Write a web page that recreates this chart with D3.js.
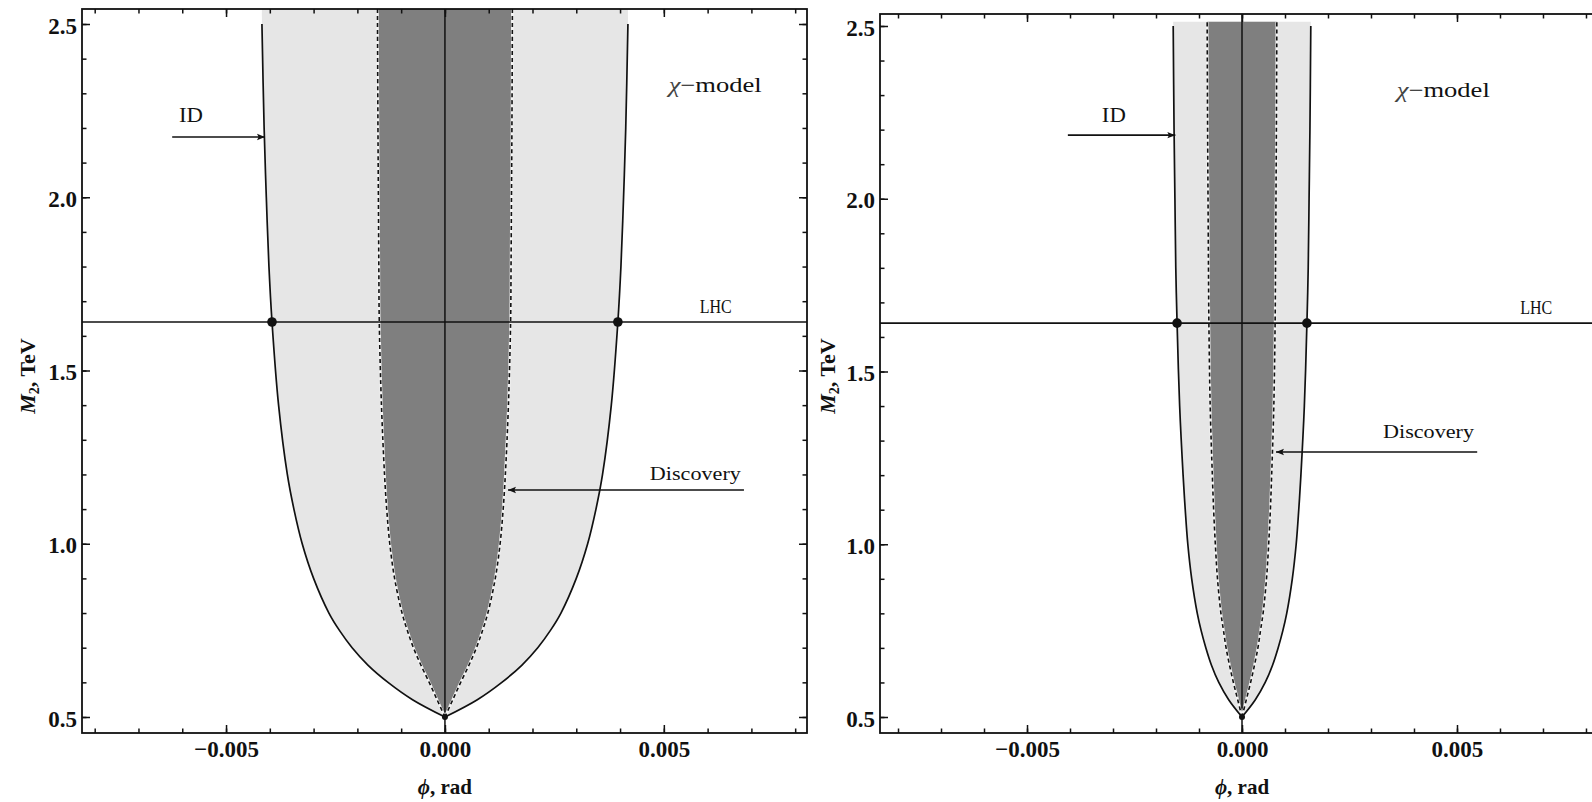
<!DOCTYPE html>
<html>
<head>
<meta charset="utf-8">
<script src="https://cdn.jsdelivr.net/npm/d3@7"></script>
<style>
  html, body { margin: 0; padding: 0; background: #fff; overflow: hidden; }
  svg { display: block; }
  text { font-family: "Liberation Serif", "Times New Roman", serif; fill: #111; }
</style>
</head>
<body>
<script>
// ---------------- data ----------------
const massValues   = [0.5, 0.55, 0.6, 0.65, 0.7, 0.75, 0.8, 0.9, 1.0, 1.1, 1.2, 1.4, 1.64, 1.8, 2.0, 2.2, 2.5];
// left panel: ID (outer) and Discovery (inner) half-widths in phi (rad)
const leftIdPhi    = [0, 0.00074, 0.0013, 0.00176, 0.00212, 0.00241, 0.00265, 0.003, 0.00326, 0.00345, 0.0036, 0.0038, 0.00395, 0.00402, 0.00408, 0.00413, 0.00418];
const leftDiscPhi  = [0, 0.00018, 0.00036, 0.00055, 0.00072, 0.00086, 0.00098, 0.00115, 0.00126, 0.00133, 0.00138, 0.00145, 0.0015, 0.00151, 0.00152, 0.00153, 0.00154];
// right panel
const rightIdPhi   = [0, 0.00031, 0.00054, 0.00071, 0.00084, 0.00095, 0.00104, 0.00117, 0.00126, 0.00132, 0.00137, 0.00145, 0.00151, 0.00154, 0.00156, 0.00158, 0.0016];
const rightDiscPhi = [0, 0.0001, 0.0002, 0.00029, 0.00037, 0.00043, 0.00049, 0.00057, 0.00062, 0.00066, 0.00069, 0.00074, 0.00077, 0.00078, 0.00079, 0.0008, 0.00081];
const lhcMass = 1.64;
const xTickValues = [-0.005, 0, 0.005];
const xTickLabels = ["\u22120.005", "0.000", "0.005"];
const yTickValues = [0.5, 1.0, 1.5, 2.0, 2.5];
const yTickLabels = ["0.5", "1.0", "1.5", "2.0", "2.5"];
const modelLabel = "\u03C7\u2212model";
const lhcLabel = "LHC";
const idLabel = "ID";
const discLabel = "Discovery";

// ---------------- layout ----------------
const W = 1592, H = 802;
const svg = d3.select("body").append("svg").attr("width", W).attr("height", H);

const defs = svg.append("defs");
defs.append("marker").attr("id", "arr").attr("viewBox", "0 0 10 10")
  .attr("refX", 10).attr("refY", 5).attr("markerWidth", 14).attr("markerHeight", 8)
  .attr("markerUnits", "userSpaceOnUse").attr("orient", "auto")
  .append("path").attr("d", "M0,1 L10,5 L0,9 L2,5 Z").attr("fill", "#111");

const panels = [
  { id: "L", idPhi: leftIdPhi, discPhi: leftDiscPhi,
    xDom: [-0.00829, 0.00827], xRange: [82, 807],
    yDom: [0.4538, 2.5433], yRange: [733, 9], fillTop: 2.5433,
    ann: { idText: [-0.0058, 2.217], idArrow: [-0.00623, -0.00411, 2.174],
           model: [0.00511, 2.304], lhc: [0.00582, 1.666],
           disc: [0.00468, 1.184], discArrow: [0.00683, 0.00144, 1.155] },
    ylab: 35 },
  { id: "R", idPhi: rightIdPhi, discPhi: rightDiscPhi,
    xDom: [-0.008419, 0.008419], xRange: [880, 1604],
    yDom: [0.4537, 2.5347], yRange: [733, 14], fillTop: 2.512,
    ann: { idText: [-0.00298, 2.222], idArrow: [-0.00405, -0.00155, 2.184],
           model: [0.0036, 2.294], lhc: [0.00647, 1.666],
           disc: [0.00328, 1.3075], discArrow: [0.00547, 0.00079, 1.267] },
    ylab: 835 }
];

const curve = d3.curveCatmullRom.alpha(0.5);

panels.forEach(p => {
  const x = d3.scaleLinear().domain(p.xDom).range(p.xRange);
  const y = d3.scaleLinear().domain(p.yDom).range(p.yRange);
  const g = svg.append("g");
  const clipId = "clip" + p.id;
  defs.append("clipPath").attr("id", clipId).append("rect")
    .attr("x", p.xRange[0]).attr("y", p.yRange[1])
    .attr("width", p.xRange[1] - p.xRange[0]).attr("height", p.yRange[0] - p.yRange[1]);
  const plot = g.append("g").attr("clip-path", `url(#${clipId})`);

  const idPts = massValues.map((m, i) => ({ m, w: p.idPhi[i] }));
  const discPts = massValues.map((m, i) => ({ m, w: p.discPhi[i] }));
  const withTop = pts => pts.concat([{ m: p.fillTop, w: pts[pts.length - 1].w }]);

  const bandPath = pts => {
    const ln = d3.line().curve(curve).x(d => x(d.w)).y(d => y(d.m));
    const left = ln(pts.map(d => ({ m: d.m, w: -d.w })));
    const right = ln(pts.slice().reverse());
    return left + "L" + right.slice(1) + "Z";
  };
  plot.append("path").attr("d", bandPath(withTop(idPts))).attr("fill", "#e6e6e6");
  plot.append("path").attr("d", bandPath(withTop(discPts))).attr("fill", "#7f7f7f");

  // zero line
  plot.append("line").attr("x1", x(0)).attr("x2", x(0))
    .attr("y1", p.yRange[0]).attr("y2", p.yRange[1])
    .attr("stroke", "#111").attr("stroke-width", 1.5);

  // discovery dashed borders
  [-1, 1].forEach(s => {
    const ln = d3.line().curve(curve).y(d => y(d.m)).x(d => x(s * d.w));
    plot.append("path").datum(withTop(discPts)).attr("d", ln)
      .attr("fill", "none").attr("stroke", "#f4f4f4").attr("stroke-width", 2.6);
    plot.append("path").datum(withTop(discPts)).attr("d", ln)
      .attr("fill", "none").attr("stroke", "#111").attr("stroke-width", 1.6)
      .attr("stroke-dasharray", "4,3");
  });
  // ID borders
  [-1, 1].forEach(s => {
    const ln = d3.line().curve(curve).y(d => y(d.m)).x(d => x(s * d.w));
    plot.append("path").datum(idPts).attr("d", ln)
      .attr("fill", "none").attr("stroke", "#111").attr("stroke-width", 1.7);
  });

  // LHC line
  plot.append("line").attr("x1", p.xRange[0]).attr("x2", p.xRange[1])
    .attr("y1", y(lhcMass)).attr("y2", y(lhcMass))
    .attr("stroke", "#111").attr("stroke-width", 1.7);

  // dots
  const li = massValues.indexOf(lhcMass);
  [-1, 1].forEach(s => {
    plot.append("circle").attr("cx", x(s * p.idPhi[li])).attr("cy", y(lhcMass))
      .attr("r", 4.8).attr("fill", "#111");
  });
  plot.append("circle").attr("cx", x(0)).attr("cy", y(massValues[0])).attr("r", 3).attr("fill", "#111");

  // frame
  g.append("rect").attr("x", p.xRange[0]).attr("y", p.yRange[1])
    .attr("width", p.xRange[1] - p.xRange[0]).attr("height", p.yRange[0] - p.yRange[1])
    .attr("fill", "none").attr("stroke", "#111").attr("stroke-width", 1.8);

  // ticks
  const xMinor = d3.range(-8, 9).map(v => v / 1000);
  const yMinor = d3.range(5, 26).map(v => v / 10);
  const styleAxis = a => { a.select(".domain").remove(); a.selectAll("line").attr("stroke", "#111").attr("stroke-width", 1.5); };

  const bot = g.append("g").attr("transform", `translate(0,${p.yRange[0]})`);
  bot.append("g").call(d3.axisBottom(x).tickValues(xMinor).tickSize(-4.5).tickFormat("")).call(styleAxis);
  bot.append("g").call(d3.axisBottom(x).tickValues(xTickValues).tickSize(-8).tickPadding(8)
    .tickFormat((d, i) => xTickLabels[i])).call(styleAxis)
    .selectAll("text").attr("font-size", 23).attr("font-weight", "bold")
    .attr("font-family", "Liberation Serif").attr("fill", "#111");
  const top = g.append("g").attr("transform", `translate(0,${p.yRange[1]})`);
  top.append("g").call(d3.axisTop(x).tickValues(xMinor).tickSize(-4.5).tickFormat("")).call(styleAxis);
  top.append("g").call(d3.axisTop(x).tickValues(xTickValues).tickSize(-8).tickFormat("")).call(styleAxis);

  const lft = g.append("g").attr("transform", `translate(${p.xRange[0]},0)`);
  lft.append("g").call(d3.axisLeft(y).tickValues(yMinor).tickSize(-4.5).tickFormat("")).call(styleAxis);
  lft.append("g").call(d3.axisLeft(y).tickValues(yTickValues).tickSize(-8).tickPadding(5)
    .tickFormat((d, i) => yTickLabels[i])).call(styleAxis)
    .selectAll("text").attr("font-size", 23).attr("font-weight", "bold").attr("dy", "0.4em")
    .attr("font-family", "Liberation Serif").attr("fill", "#111");
  const rgt = g.append("g").attr("transform", `translate(${p.xRange[1]},0)`);
  rgt.append("g").call(d3.axisRight(y).tickValues(yMinor).tickSize(-4.5).tickFormat("")).call(styleAxis);
  rgt.append("g").call(d3.axisRight(y).tickValues(yTickValues).tickSize(-8).tickFormat("")).call(styleAxis);

  // axis titles
  const xt = g.append("text").attr("x", x(0)).attr("y", 794).attr("text-anchor", "middle")
    .attr("font-size", 21).attr("font-weight", "bold");
  xt.append("tspan").attr("font-style", "italic").text("\u03D5");
  xt.append("tspan").text(", rad");

  const yt = g.append("text").attr("transform", `translate(${p.ylab},376) rotate(-90)`)
    .attr("text-anchor", "middle").attr("font-size", 22).attr("font-weight", "bold");
  yt.append("tspan").attr("font-style", "italic").text("M");
  yt.append("tspan").attr("font-size", 14).attr("dy", 4).text("2");
  yt.append("tspan").attr("dy", -4).text(", TeV");

  // annotations
  const a = p.ann;
  g.append("text").attr("x", x(a.idText[0])).attr("y", y(a.idText[1])).attr("text-anchor", "middle")
    .attr("font-size", 21).attr("textLength", 24).attr("lengthAdjust", "spacingAndGlyphs").text(idLabel);
  g.append("line").attr("x1", x(a.idArrow[0])).attr("x2", x(a.idArrow[1]))
    .attr("y1", y(a.idArrow[2])).attr("y2", y(a.idArrow[2]))
    .attr("stroke", "#111").attr("stroke-width", 1.6).attr("marker-end", "url(#arr)");

  const mt = g.append("text").attr("x", x(a.model[0])).attr("y", y(a.model[1]))
    .attr("font-size", 21).attr("textLength", 93).attr("lengthAdjust", "spacingAndGlyphs");
  mt.append("tspan").attr("font-style", "italic").attr("fill", "#444").text(modelLabel.slice(0, 1));
  mt.append("tspan").text(modelLabel.slice(1));

  g.append("text").attr("x", x(a.lhc[0])).attr("y", y(a.lhc[1]))
    .attr("font-size", 19).attr("textLength", 32).attr("lengthAdjust", "spacingAndGlyphs").text(lhcLabel);

  g.append("text").attr("x", x(a.disc[0])).attr("y", y(a.disc[1]))
    .attr("font-size", 19).attr("textLength", 91).attr("lengthAdjust", "spacingAndGlyphs").text(discLabel);
  g.append("line").attr("x1", x(a.discArrow[0])).attr("x2", x(a.discArrow[1]))
    .attr("y1", y(a.discArrow[2])).attr("y2", y(a.discArrow[2]))
    .attr("stroke", "#111").attr("stroke-width", 1.6).attr("marker-end", "url(#arr)");
});
</script>
</body>
</html>
